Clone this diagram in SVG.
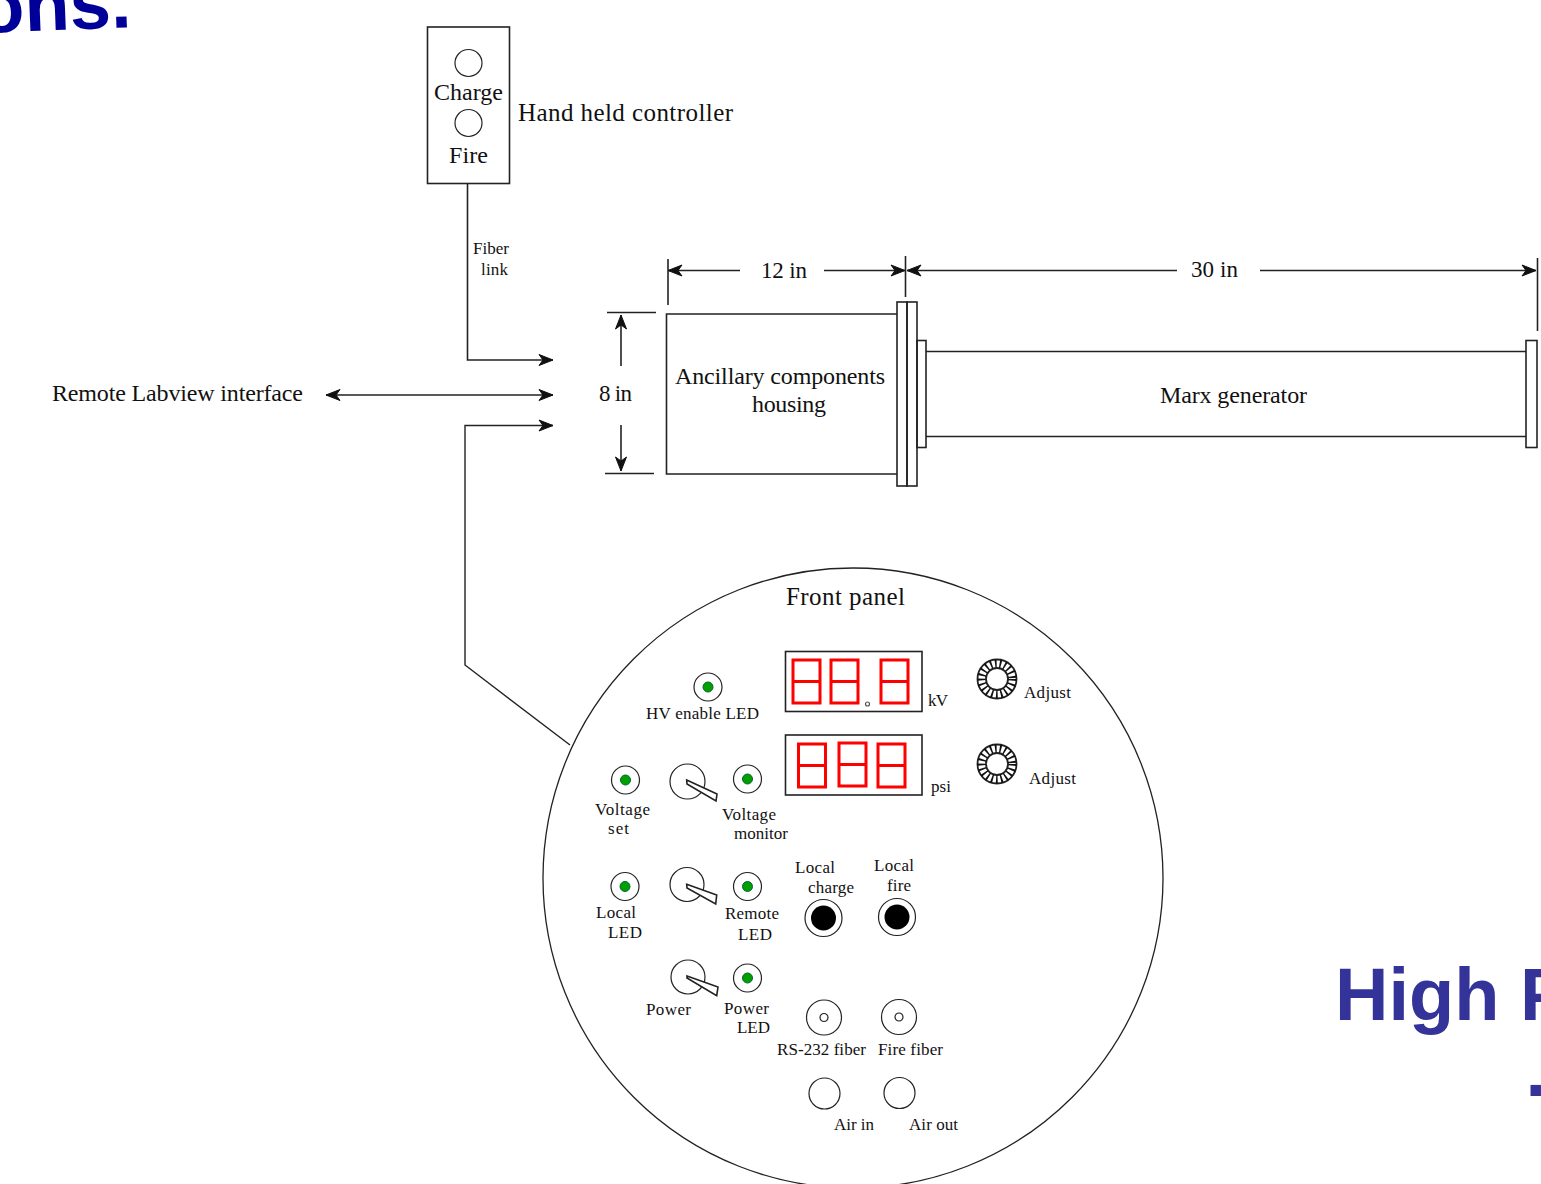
<svg xmlns="http://www.w3.org/2000/svg" xmlns:xlink="http://www.w3.org/1999/xlink" width="1541" height="1184" viewBox="0 0 1541 1184">
<style>
text{font-family:"Liberation Serif","Times New Roman",serif;fill:#111;font-size:18px}
.l{font-size:24px}.m{font-size:24px}.d{font-size:23px}.s{font-size:17px}
.h{font-family:"Liberation Sans",Arial,sans-serif;font-weight:bold;font-size:74px}
.o,.c line,.c path{fill:none;stroke:#222;stroke-width:1.6}
.w{fill:#fff;stroke:#222;stroke-width:1.6}
.t{fill:none;stroke:#222;stroke-width:1.2}
.seg{fill:none;stroke:#f00;stroke-width:3}
.a{marker-end:url(#ah)}
.b{marker-start:url(#ahs);marker-end:url(#ah)}
.st{marker-start:url(#ahs)}
</style>
<defs>
<marker id="ah" markerUnits="userSpaceOnUse" markerWidth="18" markerHeight="14" refX="15" refY="7" orient="auto"><path d="M1,1.500L15,7L1,12.500L5,7Z" fill="#111" stroke="#111" stroke-width="1"/></marker>
<marker id="ahs" markerUnits="userSpaceOnUse" markerWidth="18" markerHeight="14" refX="1" refY="7" orient="auto"><path d="M15,1.500L1,7L15,12.500L11,7Z" fill="#111" stroke="#111" stroke-width="1"/></marker>
<g id="led"><circle r="14" class="t"/><circle r="5" fill="#00a000" stroke="#063" stroke-width="1"/></g>
<g id="knob"><circle r="19.500" class="t" style="stroke-width:1.800"/><circle r="11" class="t" style="stroke-width:1.800"/><circle r="15.500" fill="none" stroke="#111" stroke-width="8.500" stroke-dasharray="1.700 3"/></g>
<path id="seg8" class="seg" d="M0,0H27V43H0ZM0,21.500H27"/>
<g id="btn"><circle r="18.500" class="t"/><circle r="12.500" fill="#000"/></g>
<g id="fib"><circle r="17.500" class="t"/><circle r="4" class="t"/></g>
</defs>

<text id="title-top" class="h" x="-20" y="30" transform="rotate(-2.200 60 30)" style="fill:#000099">ons.</text>
<text id="title-high" class="h" x="1335" y="1020" style="fill:#333399">High P</text>
<text id="title-dot" class="h" x="1525.500" y="1096" style="fill:#333399">.</text>

<g id="connectors" class="c">
<path class="a" d="M467.500,183V360H553"/>
<line class="b" x1="326" y1="395" x2="553" y2="395"/>
<path class="a" d="M570,745L465,665V425.500H553" style="stroke-width:1.400"/>
<line class="a" x1="824" y1="270.500" x2="905" y2="270.500"/>
<line class="st" x1="668" y1="270.500" x2="740" y2="270.500"/>
<line class="st" x1="907" y1="270.500" x2="1177" y2="270.500"/>
<line class="a" x1="1260" y1="270.500" x2="1536" y2="270.500"/>
<line x1="668" y1="259" x2="668" y2="305"/>
<line x1="905.500" y1="256" x2="905.500" y2="297"/>
<line x1="1537.500" y1="258" x2="1537.500" y2="331"/>
<line class="a" x1="621" y1="366" x2="621" y2="315"/>
<line class="a" x1="621" y1="425" x2="621" y2="471"/>
<line x1="607" y1="312.500" x2="656" y2="312.500"/>
<line x1="605" y1="473.500" x2="654" y2="473.500"/>
</g>

<g id="controller">
<rect class="o" x="427.500" y="27" width="82" height="156.500"/>
<circle class="t" cx="468.500" cy="63" r="13.500"/>
<circle class="t" cx="468.500" cy="123" r="13.500"/>
<text class="m" x="434" y="100" textLength="69">Charge</text>
<text class="m" x="449" y="163" textLength="39">Fire</text>
<text class="l" x="518" y="121" style="font-size:25px" textLength="215">Hand held controller</text>
</g>
<text id="fiber-link-1" class="s" x="473" y="254" textLength="36">Fiber</text>
<text id="fiber-link-2" class="s" x="481" y="275" textLength="27">link</text>
<text id="remote" class="l" x="52" y="401" textLength="251">Remote Labview interface</text>
<text id="dim-8" class="d" x="599" y="401" textLength="33">8 in</text>
<text id="dim-12" class="d" x="761" y="278" textLength="46">12 in</text>
<text id="dim-30" class="d" x="1191" y="277" textLength="47">30 in</text>

<g id="housing">
<path class="o" d="M897,314H666.500V474H897"/>
<text class="l" x="675" y="384" textLength="210">Ancillary components</text>
<text class="l" x="752" y="412" textLength="74">housing</text>
</g>
<g id="flange">
<rect class="o" x="897" y="302" width="10" height="184"/>
<rect class="o" x="907" y="302" width="10" height="184"/>
<rect class="o" x="917" y="340.500" width="9" height="107"/>
</g>
<g id="marx">
<path class="o" d="M926,351.500H1526M926,436.500H1526"/>
<rect class="o" x="1526" y="340.500" width="11" height="107"/>
<text class="l" x="1160" y="403" textLength="147">Marx generator</text>
</g>

<g id="front-panel">
<circle cx="853" cy="878" r="310" fill="none" stroke="#222" stroke-width="1.300"/>
<text x="786" y="605" style="font-size:25px" textLength="119">Front panel</text>
</g>

<g id="display-kv">
<rect class="o" x="785.500" y="651.500" width="136.500" height="60"/>
<use xlink:href="#seg8" href="#seg8" x="793" y="660"/>
<use xlink:href="#seg8" href="#seg8" x="831" y="660"/>
<use xlink:href="#seg8" href="#seg8" x="881" y="660"/>
<circle cx="867.500" cy="704" r="2" fill="none" stroke="#555" stroke-width="1.200"/>
<text class="s" x="928" y="706" textLength="20">kV</text>
</g>
<g id="display-psi">
<rect class="o" x="785.500" y="735" width="136.500" height="60"/>
<use xlink:href="#seg8" href="#seg8" x="798.500" y="744"/>
<use xlink:href="#seg8" href="#seg8" x="839" y="743"/>
<use xlink:href="#seg8" href="#seg8" x="878" y="744"/>
<text class="s" x="931" y="792" textLength="20">psi</text>
</g>
<g id="adjust-1"><use xlink:href="#knob" href="#knob" x="997" y="679"/><text class="s" x="1024" y="698" textLength="47">Adjust</text></g>
<g id="adjust-2"><use xlink:href="#knob" href="#knob" x="997" y="764"/><text class="s" x="1029" y="784" textLength="47">Adjust</text></g>

<g id="hv-led"><use xlink:href="#led" href="#led" x="708" y="687"/><text class="s" x="646" y="719" textLength="113">HV enable LED</text></g>
<g id="voltage-set"><use xlink:href="#led" href="#led" x="625.500" y="780"/><text class="s" x="595" y="815" textLength="55">Voltage</text><text class="s" x="608" y="834" textLength="21">set</text></g>
<g id="voltage-switch"><circle class="t" cx="687.500" cy="781.500" r="17.500"/><path class="w" d="M686.700,780L717,794L716,801L687,784Z"/></g>
<g id="voltage-monitor"><use xlink:href="#led" href="#led" x="747.500" y="779"/><text class="s" x="722" y="820" textLength="54">Voltage</text><text class="s" x="734" y="839" textLength="54">monitor</text></g>
<g id="local-led"><use xlink:href="#led" href="#led" x="625" y="886.500"/><text class="s" x="596" y="918" textLength="40">Local</text><text class="s" x="608" y="938" textLength="34">LED</text></g>
<g id="local-switch"><circle class="t" cx="687" cy="884.500" r="17"/><path class="w" d="M686.700,884.300L716.700,895L715.700,904L687,888Z"/></g>
<g id="remote-led"><use xlink:href="#led" href="#led" x="747.500" y="886.500"/><text class="s" x="725" y="919" textLength="54">Remote</text><text class="s" x="738" y="940" textLength="34">LED</text></g>
<g id="power-switch"><circle class="t" cx="688" cy="977" r="17"/><path class="w" d="M687,976L718,987L716.700,995.700L687,978Z"/><text class="s" x="646" y="1015" textLength="45">Power</text></g>
<g id="power-led"><use xlink:href="#led" href="#led" x="747.500" y="978"/><text class="s" x="724" y="1014" textLength="45">Power</text><text class="s" x="737" y="1033" textLength="33">LED</text></g>
<g id="local-charge"><use xlink:href="#btn" href="#btn" x="823.500" y="918"/><text class="s" x="795" y="873" textLength="40">Local</text><text class="s" x="808" y="893" textLength="46">charge</text></g>
<g id="local-fire"><use xlink:href="#btn" href="#btn" x="897" y="917"/><text class="s" x="874" y="871" textLength="40">Local</text><text class="s" x="887" y="891" textLength="24">fire</text></g>
<g id="rs232"><use xlink:href="#fib" href="#fib" x="824" y="1017.500"/><text class="s" x="777" y="1055" textLength="89">RS-232 fiber</text></g>
<g id="fire-fiber"><use xlink:href="#fib" href="#fib" x="899" y="1017"/><text class="s" x="878" y="1055" textLength="65">Fire fiber</text></g>
<g id="air-in"><circle class="t" cx="824.500" cy="1093.500" r="15.500"/><text class="s" x="834" y="1130" textLength="40">Air in</text></g>
<g id="air-out"><circle class="t" cx="899.500" cy="1093" r="15.500"/><text class="s" x="909" y="1130" textLength="49">Air out</text></g>
</svg>
